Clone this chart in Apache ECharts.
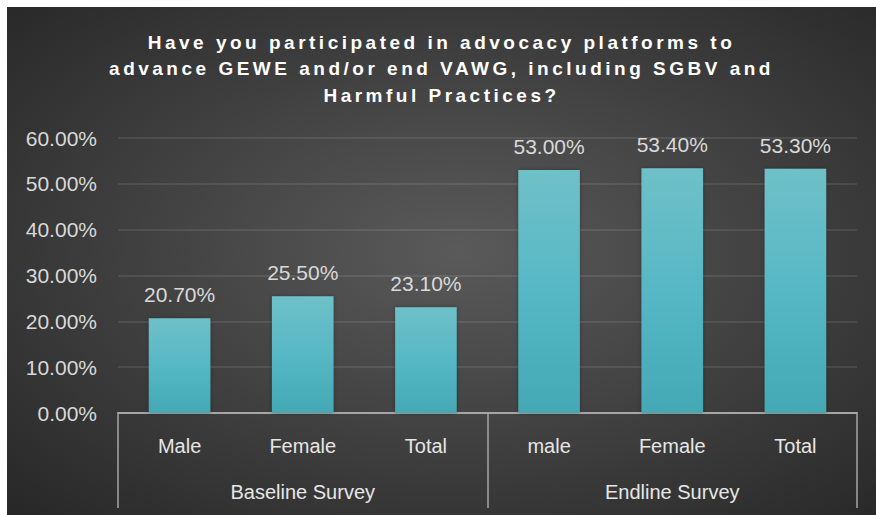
<!DOCTYPE html>
<html lang="en">
<head>
    <meta charset="UTF-8">
    <title>Advocacy platforms</title>
    <style>
        html, body {
            margin: 0;
            padding: 0;
            background: #ffffff;
        }

        #chart {
            position: absolute;
            left: 7px;
            top: 7px;
            width: 869px;
            height: 508px;
        }

        /* title is spaced out like the original */
        #chart text[style*="Arial"] {
            letter-spacing: 3.5px;
        }
    </style>
</head>
<body>
<div id="chart"></div>
<script src="https://cdn.jsdelivr.net/npm/echarts@6/dist/echarts.min.js"></script>
<script type="text/javascript">
    var titleText = 'Have you participated in advocacy platforms to\nadvance GEWE and/or end VAWG, including SGBV and\nHarmful Practices?';
    var categories = ['Male', 'Female', 'Total', 'male', 'Female', 'Total'];
    var groups = ['Baseline Survey', 'Endline Survey'];
    var values = [20.7, 25.5, 23.1, 53.0, 53.4, 53.3];
    var yTicks = [0, 10, 20, 30, 40, 50, 60];

    var chart = echarts.init(document.getElementById('chart'), null, {renderer: 'svg'});

    var font = 'Liberation Sans';
    var lineColor = '#a6a6a6';

    chart.setOption({
        backgroundColor: {
            type: 'radial',
            x: 0.52, y: 0.48, r: 0.75,
            colorStops: [
                {offset: 0, color: '#5a5a5a'},
                {offset: 1, color: '#262626'}
            ]
        },
        textStyle: {
            fontFamily: font
        },
        title: {
            text: titleText,
            left: 'center',
            top: 17,
            textStyle: {
                color: '#ffffff',
                fontFamily: "'Liberation Sans', Arial",
                fontWeight: 'bold',
                fontSize: 19,
                lineHeight: 26.5
            }
        },
        grid: {
            left: 111,
            right: 19,
            top: 131,
            bottom: 102,
            containLabel: false
        },
        xAxis: [{
            type: 'category',
            data: categories,
            position: 'bottom',
            axisLine: {show: true, lineStyle: {color: lineColor, width: 2}},
            axisTick: {show: false},
            axisLabel: {
                interval: 0,
                margin: 23,
                color: '#e6e6e6',
                fontSize: 20
            }
        }, {
            type: 'category',
            data: groups,
            position: 'bottom',
            axisLine: {show: false},
            axisTick: {
                show: true,
                interval: 0,
                length: 95,
                lineStyle: {color: lineColor, width: 1.5}
            },
            axisLabel: {
                interval: 0,
                margin: 69,
                color: '#e6e6e6',
                fontSize: 20
            }
        }],
        yAxis: {
            type: 'value',
            min: yTicks[0],
            max: yTicks[yTicks.length - 1],
            interval: 10,
            axisLine: {show: false},
            axisTick: {show: false},
            axisLabel: {
                margin: 21,
                color: '#d9d9d9',
                fontSize: 21,
                formatter: function (v) {
                    return v.toFixed(2) + '%';
                }
            },
            splitLine: {
                lineStyle: {color: 'rgba(255,255,255,0.12)', width: 1.5}
            }
        },
        series: [{
            type: 'bar',
            xAxisIndex: 0,
            data: values,
            barWidth: '50%',
            itemStyle: {
                color: {
                    type: 'linear',
                    x: 0, y: 0, x2: 0, y2: 1,
                    colorStops: [
                        {offset: 0, color: '#6fc0c8'},
                        {offset: 0.5, color: '#56b8c5'},
                        {offset: 1, color: '#44a8b5'}
                    ]
                },
                shadowBlur: 4,
                shadowColor: 'rgba(0,0,0,0.3)'
            },
            label: {
                show: true,
                position: 'top',
                distance: 13,
                color: '#d9d9d9',
                fontSize: 21,
                formatter: function (p) {
                    return p.value.toFixed(2) + '%';
                }
            }
        }]
    });
</script>
</body>
</html>
